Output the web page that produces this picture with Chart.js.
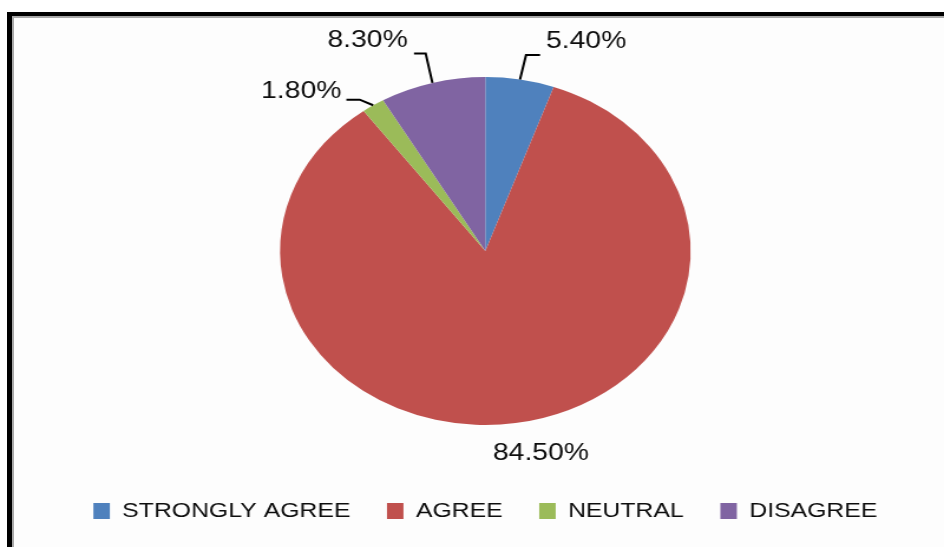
<!DOCTYPE html>
<html>
<head>
<meta charset="utf-8">
<script src="https://cdn.jsdelivr.net/npm/chart.js@4.4.1/dist/chart.umd.min.js"></script>
<style>
  html, body { margin: 0; padding: 0; background: #fff; }
  body { width: 944px; height: 547px; position: relative; overflow: hidden; }
  /* black frame with a thin grey inner line */
  #frame {
    position: absolute; left: 7px; top: 12px; right: 0; bottom: -10px;
    border-left: 5px solid #000; border-top: 4px solid #000;
    background: #fdfdfd;
  }
  #frame::before {
    content: ""; position: absolute; left: 0; top: 0; right: 0; bottom: 0;
    border-left: 2px solid #a8a8a8; border-top: 2px solid #a8a8a8;
  }
  #wrap {
    position: absolute; left: 0; top: 0; width: 800px; height: 547px;
    transform: scaleX(1.18); transform-origin: 0 0;
  }
  canvas { display: block; }
</style>
</head>
<body>
<div id="frame"></div>
<div id="wrap"><canvas id="chart" width="800" height="547"></canvas></div>
<script>
// Survey responses, percentage of respondents
const categories = ['STRONGLY AGREE', 'AGREE', 'NEUTRAL', 'DISAGREE'];
const shares = [5.4, 84.5, 1.8, 8.3];
const sliceColors = ['#4F81BD', '#C0504D', '#9BBB59', '#8064A2'];

// where each value label sits relative to its slice rim (leader elbow, run, text placement)
const labelPlacement = [
  { elbow: [5.1, -24.4], run: 11.9, gap: 5.0, lift: -13.8, leader: true },
  { elbow: [21.5, 30], run: 0, gap: 0, lift: 0, leader: false },
  { elbow: [-11.4, -5.6], run: -11.3, gap: 4.2, lift: -8.7, leader: true },
  { elbow: [-5.7, -29.4], run: -9.9, gap: 5.3, lift: -12.8, leader: true }
];

const valueLabels = {
  id: 'valueLabels',
  afterDatasetsDraw(chart) {
    const ctx = chart.ctx;
    const meta = chart.getDatasetMeta(0);
    ctx.save();
    ctx.font = '24px "Liberation Sans", Arial, sans-serif';
    ctx.fillStyle = '#0d0d0d';
    ctx.strokeStyle = '#000';
    ctx.lineWidth = 2;
    ctx.textBaseline = 'middle';
    meta.data.forEach((arc, i) => {
      const p = arc.getProps(['x', 'y', 'startAngle', 'endAngle', 'outerRadius'], true);
      const mid = (p.startAngle + p.endAngle) / 2;
      const rx = p.x + Math.cos(mid) * p.outerRadius;
      const ry = p.y + Math.sin(mid) * p.outerRadius;
      const lp = labelPlacement[i];
      const text = shares[i].toFixed(2) + '%';
      const ex = rx + lp.elbow[0];
      const ey = ry + lp.elbow[1];
      if (lp.leader) {
        const endX = ex + lp.run;
        ctx.beginPath();
        ctx.moveTo(rx, ry);
        ctx.lineTo(ex, ey);
        ctx.lineTo(endX, ey);
        ctx.stroke();
        if (lp.run >= 0) {
          ctx.textAlign = 'left';
          ctx.fillText(text, endX + lp.gap, ey + lp.lift);
        } else {
          ctx.textAlign = 'right';
          ctx.fillText(text, endX - lp.gap, ey + lp.lift);
        }
      } else {
        ctx.textAlign = 'center';
        ctx.fillText(text, ex, ey);
      }
    });
    ctx.restore();
  }
};

new Chart(document.getElementById('chart'), {
  type: 'pie',
  data: {
    labels: categories,
    datasets: [{
      data: shares,
      backgroundColor: sliceColors,
      borderWidth: 0,
      radius: 174
    }]
  },
  options: {
    responsive: false,
    animation: false,
    layout: { padding: { top: 32.5, bottom: 15.5, left: 22.6, right: 0 } },
    plugins: {
      tooltip: { enabled: false },
      legend: {
        position: 'bottom',
        labels: {
          font: { family: '"Liberation Sans", Arial, sans-serif', size: 21 },
          color: '#0d0d0d',
          boxWidth: 14,
          boxHeight: 16,
          padding: 31
        }
      }
    }
  },
  plugins: [valueLabels]
});
</script>
</body>
</html>
